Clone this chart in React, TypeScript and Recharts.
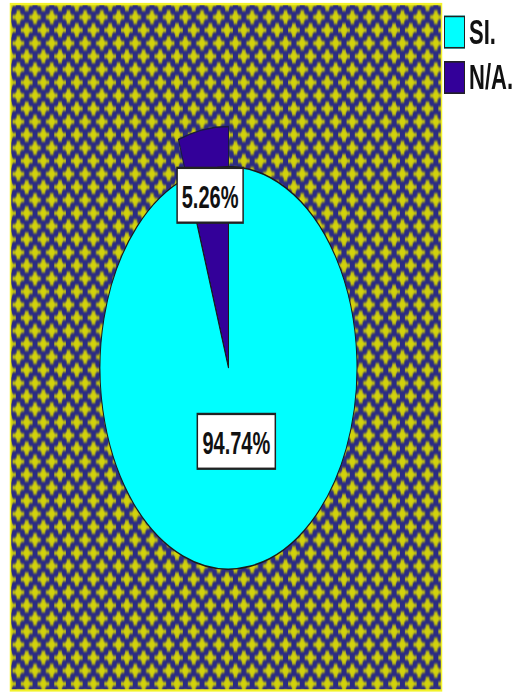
import { PieChart, Pie, Cell } from "recharts";

// chart values
const categories = ["N/A.", "SI."];
const shares = [5.26, 94.74];
const legendOrder = ["SI.", "N/A."];

const colors: Record<string, string> = {
  "SI.": "#00ffff",
  "N/A.": "#330099",
};

const data = categories.map((name, i) => ({ name, value: shares[i] }));

// the original picture is a square-ish chart stretched vertically
const W = 512;
const H = 442;
const STRETCH = 692 / H;

const CX = 228.5;
const CY = 235;
const R = 128.5;
const FONT = "'Liberation Sans', Arial, sans-serif";

const RAD = Math.PI / 180;

const renderLabel = (props: any) => {
  const { cx, cy, midAngle, percent, index } = props;
  const r = R * (index === 0 ? 0.87 : 0.37);
  const x = cx + r * Math.cos(-midAngle * RAD);
  const y = cy + r * Math.sin(-midAngle * RAD);
  const text = `${(percent * 100).toFixed(2)}%`;
  const w = text.length * 12 + 6;
  const h = 35;
  return (
    <g>
      <rect
        x={x - w / 2}
        y={y - h / 2}
        width={w}
        height={h}
        fill="#ffffff"
        stroke="#222"
        strokeWidth={1.5}
      />
      <text
        x={x}
        y={y + 1}
        textAnchor="middle"
        dominantBaseline="central"
        fontSize={20}
        fontWeight="bold"
        fontFamily={FONT}
        fill="#111"
      >
        {text}
      </text>
    </g>
  );
};

function Background() {
  const p = 16.7;
  const star = (x: number, y: number, k: string) => (
    <g key={k} fill="#c6c60a">
      <rect x={x - 5.8} y={y - 1.3} width={11.6} height={2.6} />
      <rect x={x - 1.8} y={y - 4.4} width={3.6} height={8.8} />
      <rect x={x - 2.8} y={y - 2.2} width={5.6} height={4.4} fill="#d2d20c" />
    </g>
  );
  return (
    <svg
      width={W}
      height={H}
      style={{ position: "absolute", left: 0, top: 0 }}
    >
      <defs>
        <filter id="soft" x="-10%" y="-10%" width="120%" height="120%">
          <feGaussianBlur stdDeviation="0.5" />
        </filter>
        <pattern
          id="dots"
          patternUnits="userSpaceOnUse"
          x={10}
          y={2.6}
          width={p}
          height={p}
        >
          <rect width={p} height={p} fill="#2b2b84" />
          <g filter="url(#soft)">
            {star(0, 0, "a")}
            {star(p, 0, "b")}
            {star(0, p, "c")}
            {star(p, p, "d")}
            {star(p / 2, p / 2, "e")}
          </g>
        </pattern>
      </defs>
      <rect
        x={10.5}
        y={2.6}
        width={431}
        height={438.4}
        fill="url(#dots)"
        stroke="#f2f22a"
        strokeWidth={1.5}
      />
    </svg>
  );
}

function Legend() {
  return (
    <div style={{ position: "absolute", left: 444, top: 6 }}>
      {legendOrder.map((name) => (
        <div
          key={name}
          style={{
            display: "flex",
            alignItems: "center",
            height: 29,
            fontFamily: FONT,
            fontWeight: "bold",
            fontSize: 22,
            color: "#111",
            whiteSpace: "nowrap",
          }}
        >
          <span
            style={{
              display: "inline-block",
              width: 19,
              height: 19,
              background: colors[name],
              border: "1.5px solid #222",
              marginRight: 4,
            }}
          />
          {name}
        </div>
      ))}
    </div>
  );
}

export default function App() {
  return (
    <div
      style={{
        position: "absolute",
        left: 0,
        top: 0,
        width: W,
        height: H,
        transform: `scaleY(${STRETCH})`,
        transformOrigin: "0 0",
      }}
    >
      <Background />
      <div style={{ position: "absolute", left: 0, top: 0 }}>
        <PieChart
          width={W}
          height={H}
          margin={{ top: 0, right: 0, bottom: 0, left: 0 }}
        >
          {/* exploded N/A. slice, drawn larger underneath */}
          <Pie
            data={data}
            dataKey="value"
            nameKey="name"
            cx={CX}
            cy={CY}
            outerRadius={R * 1.2}
            startAngle={90}
            endAngle={450}
            stroke="none"
            isAnimationActive={false}
          >
            {data.map((d) => (
              <Cell
                key={d.name}
                fill={d.name === "N/A." ? colors[d.name] : "transparent"}
                stroke={d.name === "N/A." ? "#1a1a40" : "none"}
                strokeWidth={1}
              />
            ))}
          </Pie>
          <Pie
            data={data}
            dataKey="value"
            nameKey="name"
            cx={CX}
            cy={CY}
            outerRadius={R}
            startAngle={90}
            endAngle={450}
            labelLine={false}
            label={renderLabel}
            isAnimationActive={false}
          >
            {data.map((d) => (
              <Cell
                key={d.name}
                fill={d.name === "SI." ? colors[d.name] : "transparent"}
                stroke="#1a1a1a"
                strokeWidth={1}
              />
            ))}
          </Pie>
        </PieChart>
      </div>
      <Legend />
    </div>
  );
}
